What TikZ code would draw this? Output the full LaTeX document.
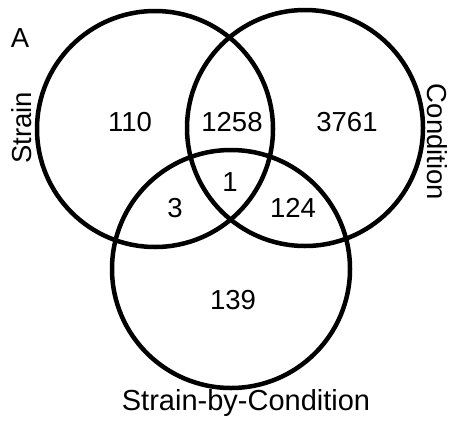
\documentclass[tikz,border=0pt]{standalone}
\usepackage{fontspec}
\setmainfont{Liberation Sans}
\begin{document}
\begin{tikzpicture}[x=1pt,y=-1pt,
  ring/.style={draw=black,line width=4.5pt},
  lbl/.style={font=\fontsize{27.5}{30}\selectfont,inner sep=0pt}]
\useasboundingbox (0,0) rectangle (452,426);
% the three sets
\draw[ring] (155,129) circle[radius=118];
\draw[ring] (305,128) circle[radius=118];
\draw[ring] (231,269) circle[radius=119];
% panel letter and set names
\node[lbl] (panel) at (20,38) {A};
\node[lbl,rotate=90] (strain) at (22,128) {Strain};
\node[lbl,rotate=-90] (cond) at (437,142) {Condition};
\node[lbl,font=\fontsize{29}{32}\selectfont] (sbc) at (246,403) {Strain-by-Condition};
% region counts
\node[lbl] (n110) at (130,122) {110};
\node[lbl] (n1258) at (232,122) {1258};
\node[lbl] (n3761) at (347,122) {3761};
\node[lbl] (n1) at (230,182) {1};
\node[lbl] (n3) at (175,208) {3};
\node[lbl] (n124) at (293,208) {124};
\node[lbl] (n139) at (233,300) {139};
\end{tikzpicture}
\end{document}
